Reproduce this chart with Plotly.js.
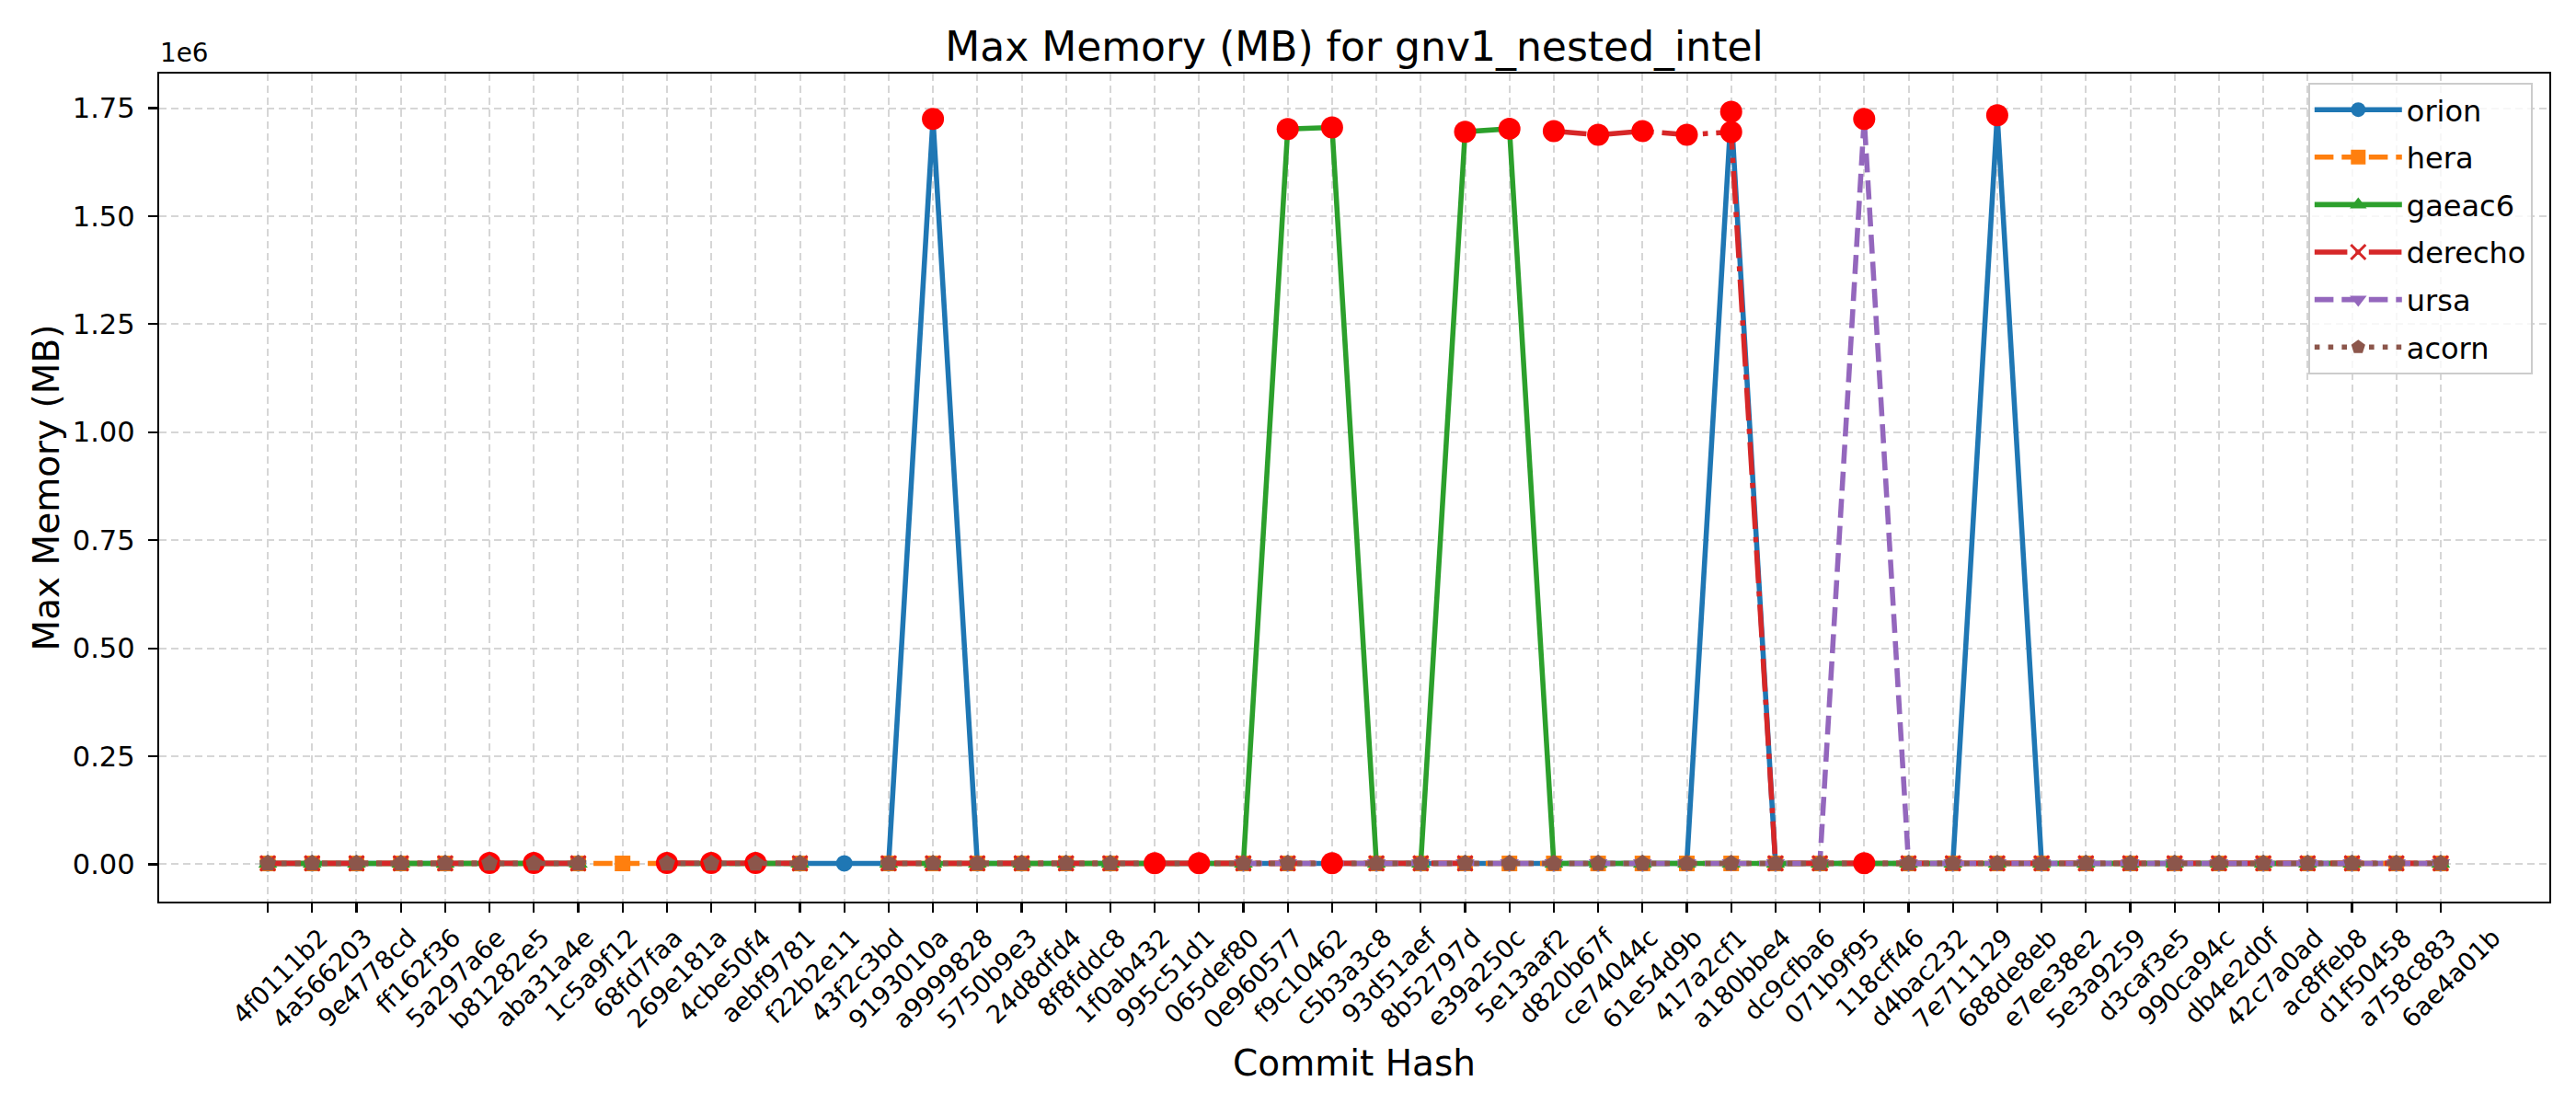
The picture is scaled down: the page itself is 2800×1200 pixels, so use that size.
<!DOCTYPE html>
<html>
<head>
<meta charset="utf-8">
<script src="https://cdn.plot.ly/plotly-3.0.1.min.js"></script>
<style>html,body{margin:0;padding:0;background:#fff;}#chart{width:2800px;height:1200px;}</style>
</head>
<body>
<div id="chart"></div>
<script>
var commits = ["4f0111b2","4a566203","9e4778cd","ff162f36","5a297a6e","b81282e5","aba31a4e","1c5a9f12","68fd7faa","269e181a",
               "4cbe50f4","aebf9781","f22b2e11","43f2c3bd","9193010a","a9999828","5750b9e3","24d8dfd4","8f8fddc8","1f0ab432",
               "995c51d1","065def80","0e960577","f9c10462","c5b3a3c8","93d51aef","8b52797d","e39a250c","5e13aaf2","d820b67f",
               "ce74044c","61e54d9b","417a2cf1","a180bbe4","dc9cfba6","071b9f95","118cff46","d4bac232","7e711129","688de8eb",
               "e7ee38e2","5e3a9259","d3caf3e5","990ca94c","db4e2d0f","42c7a0ad","ac8ffeb8","d1f50458","a758c883","6ae4a01b"];

var orion = [2210,2205,2218,2231,2214,2226,2209,2220,null,2215,
             2232,2219,2207,2224,2212,1725300,2217,2229,2211,2206,
             2223,2230,2214,2208,2221,2216,2227,2213,2219,2224,
             2210,2218,2207,1741600,2225,2214,2209,2220,2216,1733800,
             2212,2228,2219,2206,2215,2223,2211,2217,2229,2213];

var hera = [1984,1991,1978,1995,1987,1982,1990,1986,1993,1979,
            1988,1994,1981,null,1989,1985,1992,1980,1996,1983,
            1987,1991,1978,1994,1986,1989,1982,1990,1985,1993,
            1979,1988,1984,1992,1981,1995,1987,1983,1990,1986,
            1994,1980,1989,1985,1992,1978,1991,1984,1988,1982];

var gaeac6 = [2105,2098,2112,2101,2109,2095,2107,2103,null,2111,
              2099,2106,2102,null,2108,2097,2110,2104,2100,2113,
              2096,2109,2103,1701800,1705400,2101,2107,1695400,1702500,2105,
              2099,2111,2102,2108,2096,2104,2110,2100,2106,2098,
              2112,2103,2107,2101,2109,2097,2105,2102,null,2108];

var derecho = [2320,2315,2328,2311,2324,2895,2910,2318,null,2902,
               2887,2915,2322,null,2313,2326,2319,2331,2316,2325,
               2312,2329,2317,2323,2314,2327,2321,2318,null,1696900,
               1688300,1696900,1688300,1694800,2324,2316,2330,2313,2322,2319,
               2327,2315,2321,2326,2312,2318,2329,2317,2323,2320];

var ursa = [null,null,null,null,null,null,null,null,null,null,
            null,null,null,null,null,null,null,null,null,null,
            null,null,2045,2052,2038,2049,2041,2055,2043,2050,
            2039,2047,2053,2044,2040,2048,1725300,2046,2051,2042,
            2054,2037,2049,2045,2050,2041,2047,2043,2052,2046];

var acorn = [2150,2143,2157,2146,2152,2140,2155,2148,null,2144,
             2151,2147,2153,null,2149,2145,2156,2142,2150,2146,
             2710,2695,2148,2152,2705,2144,2151,2147,2153,2145,
             2149,2142,2156,2150,2143,2148,2700,2146,2152,2144,
             2151,2147,2149,2141,2155,2146,2150,2148,2153,2145];

var orionOutliers   = ["a9999828","a180bbe4","688de8eb"];
var gaeac6Outliers  = ["f9c10462","c5b3a3c8","e39a250c","5e13aaf2"];
var derechoOutliers = ["b81282e5","aba31a4e","269e181a","4cbe50f4","aebf9781",
                       "d820b67f","ce74044c","61e54d9b","417a2cf1","a180bbe4"];
var ursaOutliers    = ["118cff46"];
var acornOutliers   = ["995c51d1","065def80","c5b3a3c8","118cff46"];

var yTickVals = [0,250000,500000,750000,1000000,1250000,1500000,1750000];
var yTickText = ["0.00","0.25","0.50","0.75","1.00","1.25","1.50","1.75"];

var LW = 5.56;
function series(name, ys, color, dash, symbol, extraMarker) {
  var m = {symbol: symbol, size: 18, color: color, line: {width: 0, color: color}};
  if (extraMarker) { for (var k in extraMarker) m[k] = extraMarker[k]; }
  return {type: 'scatter', mode: 'lines+markers', name: name, legendgroup: name, x: commits, y: ys,
          connectgaps: false, line: {color: color, width: LW, dash: dash}, marker: m};
}
function outliers(ys, list, group) {
  var xs = [], vs = [];
  list.forEach(function (c) { var i = commits.indexOf(c); xs.push(c); vs.push(ys[i]); });
  return {type: 'scatter', mode: 'markers', x: xs, y: vs, showlegend: false, legendgroup: group, hoverinfo: 'skip',
          marker: {symbol: 'circle', size: 24, color: '#ff0000', line: {width: 0}}};
}

var traces = [
  series('orion', orion, '#1f77b4', 'solid', 'circle'),
  outliers(orion, orionOutliers, 'orion'),
  series('hera', hera, '#ff7f0e', '20.6px,8.9px', 'square', {size: 17}),
  series('gaeac6', gaeac6, '#2ca02c', 'solid', 'triangle-up'),
  outliers(gaeac6, gaeac6Outliers, 'gaeac6'),
  series('derecho', derecho, '#d62728', '35.6px,8.9px,5.6px,8.9px', 'x-thin', {size: 16, line: {width: 3, color: '#d62728'}}),
  outliers(derecho, derechoOutliers, 'derecho'),
  series('ursa', ursa, '#9467bd', '20.6px,8.9px', 'triangle-down'),
  outliers(ursa, ursaOutliers, 'ursa'),
  series('acorn', acorn, '#8c564b', '5.6px,9.2px', 'pentagon', {size: 19}),
  outliers(acorn, acornOutliers, 'acorn')
];

var gridColor = '#d6d6d6';
var layout = {
  width: 2800, height: 1200,
  paper_bgcolor: '#ffffff', plot_bgcolor: '#ffffff',
  font: {family: 'DejaVu Sans', color: '#000000', size: 25},
  margin: {l: 173, r: 29, t: 80, b: 220, pad: 0},
  title: {text: 'Max Memory (MB) for gnv1_nested_intel', font: {size: 44, color: '#000'},
          x: 0.5, xref: 'paper', xanchor: 'center', y: 0.958, yref: 'container', yanchor: 'middle'},
  xaxis: {
    type: 'category', range: [-2.45, 51.45], autorange: false,
    tickangle: -45, tickfont: {size: 27.5}, ticklabelshift: 57,
    ticks: 'outside', ticklen: 10, tickwidth: 2.2, tickcolor: '#000',
    showline: true, linecolor: '#000', linewidth: 2.2, mirror: true,
    showgrid: true, gridcolor: gridColor, gridwidth: 2, griddash: '8px,5px',
    zeroline: false, automargin: false,
    title: {text: 'Commit Hash', font: {size: 39}, standoff: 18}
  },
  yaxis: {
    range: [-86300, 1830000], autorange: false,
    tickvals: yTickVals, ticktext: yTickText, tickfont: {size: 30.5},
    ticks: 'outside', ticklen: 10, tickwidth: 2.2, tickcolor: '#000', ticklabelstandoff: 8,
    showline: true, linecolor: '#000', linewidth: 2.2, mirror: true,
    showgrid: true, gridcolor: gridColor, gridwidth: 2, griddash: '8px,5px',
    zeroline: false, automargin: false,
    title: {text: 'Max Memory (MB)', font: {size: 39}, standoff: 2}
  },
  legend: {
    x: 0.993, y: 0.989, xanchor: 'right', yanchor: 'top',
    bgcolor: 'rgba(255,255,255,0.8)', bordercolor: '#cccccc', borderwidth: 2,
    font: {size: 32}, itemwidth: 95, tracegroupgap: 7
  },
  annotations: [
    {text: '1e6', xref: 'paper', yref: 'paper', x: 0, y: 1, xanchor: 'left', yanchor: 'bottom',
     xshift: -1, yshift: 4, showarrow: false, font: {size: 27.8}}
  ],
  showlegend: true
};

Plotly.newPlot('chart', traces, layout, {displayModeBar: false, staticPlot: true});
</script>
</body>
</html>
